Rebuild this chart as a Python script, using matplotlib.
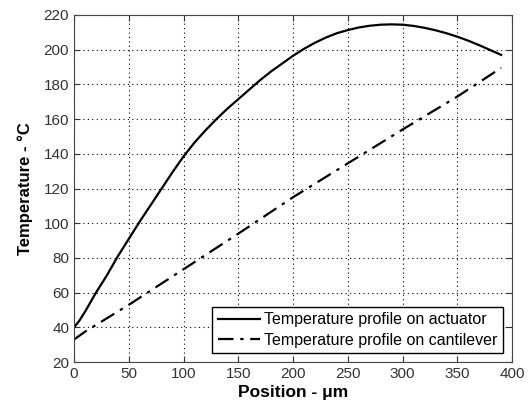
import matplotlib
matplotlib.use('Agg')
import matplotlib.pyplot as plt

# Temperature along the actuator (solid) and the cantilever (dash-dot)
pos_actuator = [0, 5, 10, 20, 30, 40, 50, 60, 70, 80, 90, 100, 110, 120, 130, 140,
                150, 160, 170, 180, 190, 200, 210, 220, 230, 240, 250, 260, 270,
                280, 290, 300, 310, 320, 330, 340, 350, 360, 370, 380, 390]
temp_actuator = [40, 44, 49, 60, 70, 81, 91, 101, 110.5, 120, 129.5, 138.5, 146.5,
                 153.5, 160, 166, 171.5, 177, 182.5, 187.5, 192, 196.5, 200.5, 204,
                 207, 209.5, 211.3, 212.8, 213.8, 214.4, 214.6, 214.4, 213.7, 212.6,
                 211.2, 209.5, 207.5, 205.2, 202.6, 199.8, 197]

pos_cantilever = [0, 10, 50, 100, 150, 200, 250, 300, 350, 390]
temp_cantilever = [33, 37.5, 53, 73.5, 94, 115, 134.5, 154, 173, 189.5]

x_ticks = [0, 50, 100, 150, 200, 250, 300, 350, 400]
y_ticks = [20, 40, 60, 80, 100, 120, 140, 160, 180, 200, 220]

plt.rcParams['font.family'] = ['Liberation Sans', 'DejaVu Sans']

fig = plt.figure(figsize=(5.29, 4.05), dpi=100)
ax = fig.add_axes([0.140, 0.106, 0.828, 0.857])

ax.plot(pos_actuator, temp_actuator, color='black', linewidth=1.6, linestyle='-',
        label='Temperature profile on actuator')
ax.plot(pos_cantilever, temp_cantilever, color='black', linewidth=1.6,
        linestyle=(0, (7, 3, 1.5, 3)), label='Temperature profile on cantilever')

ax.set_xlim(0, 400)
ax.set_ylim(20, 220)
ax.set_xticks(x_ticks)
ax.set_yticks(y_ticks)
ax.tick_params(direction='in', top=True, right=True, length=4, labelsize=11,
               labelcolor='#333333', color='#333333')
ax.grid(True, linestyle=(0, (1, 3)), color='black', linewidth=0.8)
for spine in ax.spines.values():
    spine.set_color('#444444')

ax.set_xlabel('Position - μm', fontsize=12.5, fontweight='bold', labelpad=3)
ax.set_ylabel('Temperature - °C', fontsize=12, fontweight='bold', labelpad=8)

leg = ax.legend(loc='lower right', fontsize=11.5, frameon=True, fancybox=False,
                edgecolor='black', framealpha=1, handlelength=2.6,
                borderpad=0.35, labelspacing=0.35, handletextpad=0.3,
                borderaxespad=0.55)
leg.get_frame().set_linewidth(1.0)

fig.savefig('out.png', dpi=100)
